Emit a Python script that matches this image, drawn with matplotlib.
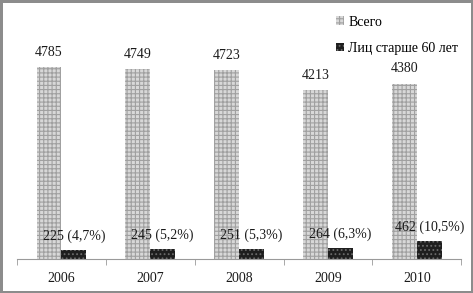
import numpy as np
import matplotlib.pyplot as plt
import matplotlib as mpl

plt.rcParams['font.family'] = ['Liberation Serif', 'DejaVu Serif']
mpl.rcParams['hatch.linewidth'] = 0.8

years = ['2006', '2007', '2008', '2009', '2010']
total = [4785, 4749, 4723, 4213, 4380]
older = [225, 245, 251, 264, 462]
older_pct = ['4,7%', '5,2%', '5,3%', '6,3%', '10,5%']

x = np.arange(len(years))
w = 0.28

fig = plt.figure(figsize=(4.73, 2.93), dpi=100)
fig.patch.set_edgecolor('#8c8c8c')
fig.patch.set_linewidth(2.5)
ax = fig.add_axes([0.036, 0.116, 0.939, 0.82])

mpl.rcParams['hatch.color'] = '#8a8a8a'
b1 = ax.bar(x - w / 2, total, w, color='#d8d8d8', hatch='++++', edgecolor='#a0a0a0',
            linewidth=0, label='Всего')
b2 = ax.bar(x + w / 2, older, w, color='#1e1e1e', hatch='....', edgecolor='#6a6a6a',
            linewidth=0, label='Лиц старше 60 лет')

for xi, v in zip(x, total):
    ax.annotate(str(v), (xi - w / 2, v), xytext=(0, 6), textcoords='offset points',
                ha='center', va='bottom', fontsize=10, color='#1a1a1a')
for xi, v, p in zip(x, older, older_pct):
    ax.annotate(f'{v} ({p})', (xi + w / 2, v), xytext=(0, 5), textcoords='offset points',
                ha='center', va='bottom', fontsize=10, color='#1a1a1a')

ax.set_xlim(-0.5, len(years) - 0.5)
ax.set_ylim(0, 6000)
for s in ['top', 'right', 'left']:
    ax.spines[s].set_visible(False)
ax.spines['bottom'].set_color('#9a9a9a')
ax.set_yticks([])
ax.set_xticks(x)
ax.set_xticklabels(years, fontsize=10, color='#1a1a1a')
ax.set_xticks(np.arange(-0.5, len(years)), minor=True)
ax.tick_params(axis='x', which='major', length=0, pad=9)
ax.tick_params(axis='x', which='minor', length=4, color='#9a9a9a', direction='out')

ax.legend(loc='upper left', bbox_to_anchor=(0.69, 1.065), frameon=False, fontsize=10,
          handlelength=0.6, handleheight=0.6, handletextpad=0.3, labelspacing=0.95)

fig.savefig('out.png', dpi=100)
